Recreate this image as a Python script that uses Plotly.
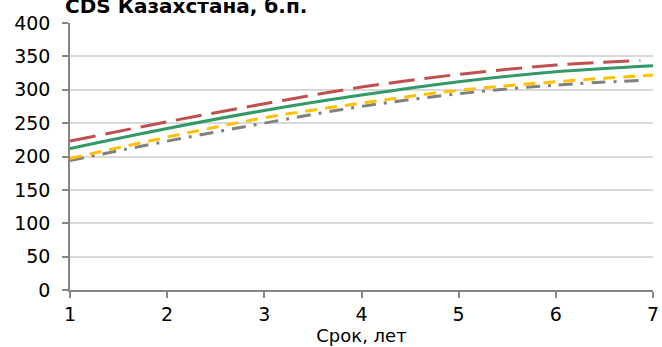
import plotly.graph_objects as go

title_text = "CDS Казахстана, б.п."
x_title = "Срок, лет"

years = [1, 2, 3, 4, 5, 6, 6.87]
years_full = [1, 2, 3, 4, 5, 6, 7]

red_vals = [223, 252, 279, 304, 323, 337, 344]
green_vals = [212, 242, 269, 292, 312, 327, 336]
yellow_vals = [197, 229, 258, 280, 299, 312, 322]
gray_vals = [194, 223, 250, 275, 294, 307, 314]

x_ticks = [1, 2, 3, 4, 5, 6, 7]
y_ticks = [0, 50, 100, 150, 200, 250, 300, 350, 400]

FONT = "DejaVu Sans"

fig = go.Figure()
fig.add_trace(go.Scatter(x=years, y=gray_vals, mode="lines",
                         line=dict(color="#808080", width=3, dash="14px,8px,3px,8px", shape="spline")))
fig.add_trace(go.Scatter(x=years_full, y=yellow_vals, mode="lines",
                         line=dict(color="#FFC000", width=3, dash="12px,8px", shape="spline")))
fig.add_trace(go.Scatter(x=years_full, y=green_vals, mode="lines",
                         line=dict(color="#339966", width=3, shape="spline")))
fig.add_trace(go.Scatter(x=years, y=red_vals, mode="lines",
                         line=dict(color="#C0504D", width=3, dash="26px,10px", shape="spline")))

fig.update_layout(
    width=662, height=347,
    margin=dict(l=70, r=9, t=23, b=57, autoexpand=False),
    plot_bgcolor="white", paper_bgcolor="white",
    showlegend=False,
    font=dict(family=FONT, size=19, color="black"),
    title=dict(text="<b>" + title_text + "</b>", x=65 / 662, xanchor="left",
               yref="container", y=0.982, yanchor="middle",
               font=dict(family=FONT, size=20, color="black")),
)
fig.update_xaxes(range=[1, 7], tickvals=x_ticks, showgrid=False, zeroline=False,
                 showline=True, linecolor="#868686", linewidth=1.5,
                 ticks="outside", ticklen=6, tickcolor="#868686", tickwidth=1.5,
                 tickfont=dict(size=19), ticklabelstandoff=0, automargin=False,
                 title=dict(text=x_title, font=dict(size=18), standoff=6))
fig.update_yaxes(range=[0, 400], tickvals=y_ticks, showgrid=True, gridcolor="#D9D9D9", gridwidth=1.5,
                 zeroline=False, showline=True, linecolor="#868686", linewidth=1.5,
                 ticks="outside", ticklen=6, tickcolor="#868686", tickwidth=1.5,
                 tickfont=dict(size=19), ticklabelstandoff=8, automargin=False)

fig.write_html("out.html")
